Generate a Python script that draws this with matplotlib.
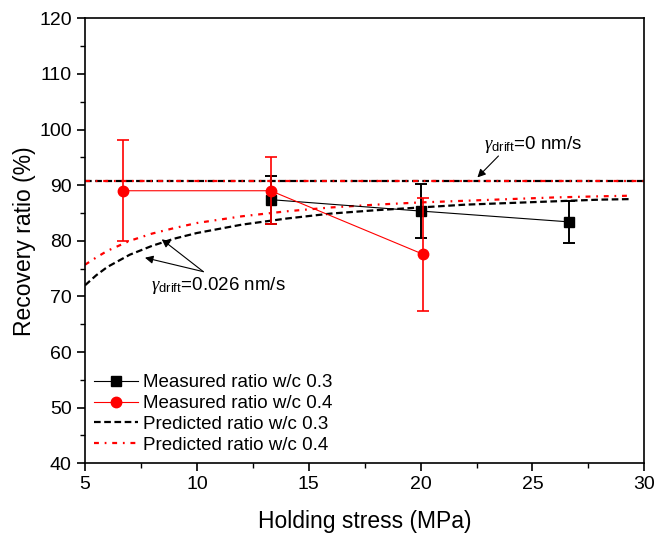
import matplotlib.pyplot as plt
from matplotlib.ticker import MultipleLocator

plt.rcParams['font.family'] = ['Liberation Sans', 'DejaVu Sans']
plt.rcParams['mathtext.fontset'] = 'custom'
plt.rcParams['mathtext.it'] = 'Liberation Serif:italic'
plt.rcParams['mathtext.rm'] = 'Liberation Sans'

# measured recovery ratios
stress_03 = [13.3, 20.0, 26.65]
ratio_03 = [87.4, 85.35, 83.4]
err_lo_03 = [4.3, 4.9, 3.75]
err_hi_03 = [4.25, 4.8, 3.75]

stress_04 = [6.7, 13.3, 20.1]
ratio_04 = [89.0, 89.0, 77.6]
err_lo_04 = [9.0, 6.0, 10.3]
err_hi_04 = [9.1, 6.1, 10.15]

# predicted curves (gamma_drift = 0.026 nm/s)
pred_x_03 = [5.0, 5.5, 6.0, 7.0, 8.0, 9.0, 10.0, 12.0, 14.0, 16.0, 18.0,
             20.0, 22.0, 24.0, 26.0, 28.0, 29.4]
pred_y_03 = [72.0, 73.8, 75.3, 77.5, 79.1, 80.4, 81.4, 82.9, 84.0, 84.9, 85.5,
             86.0, 86.5, 86.8, 87.1, 87.4, 87.5]
pred_x_04 = [5.0, 5.5, 6.0, 7.0, 8.0, 9.0, 10.0, 12.0, 14.0, 16.0, 18.0,
             20.0, 22.0, 24.0, 26.0, 28.0, 29.3]
pred_y_04 = [75.7, 77.0, 78.2, 80.0, 81.3, 82.3, 83.2, 84.4, 85.3, 86.0, 86.5,
             86.9, 87.2, 87.5, 87.8, 88.0, 88.1]

# gamma_drift = 0 level
flat_x = [5, 30]
flat_y = [90.7, 90.7]

red_dash = (2.2, 2.6, 0.8, 2.6)
black_dash = (3, 1.6)

fig = plt.figure(figsize=(6.55, 5.34), dpi=100)
ax = fig.add_axes([0.1298, 0.1324, 0.8539, 0.8333])

eb03 = ax.errorbar(stress_03, ratio_03, yerr=[err_lo_03, err_hi_03], color='black',
                   marker='s', markersize=6.5, linewidth=0.8, elinewidth=1.4,
                   capsize=4, capthick=1.4, zorder=3)
eb04 = ax.errorbar(stress_04, ratio_04, yerr=[err_lo_04, err_hi_04], color='red',
                   marker='o', markersize=7.5, linewidth=0.8, elinewidth=1.2,
                   capsize=4, capthick=1.2, zorder=4)

p03, = ax.plot(pred_x_03, pred_y_03, color='black', linewidth=1.6,
               dashes=black_dash, zorder=2)
p04, = ax.plot(pred_x_04, pred_y_04, color='red', linewidth=1.6,
               dashes=red_dash, zorder=2)
ax.plot(flat_x, flat_y, color='black', linewidth=1.6, dashes=black_dash, zorder=2)
ax.plot(flat_x, flat_y, color='red', linewidth=1.6, dashes=red_dash, zorder=2)

# annotations
ax.annotate('', xy=(22.54, 91.4), xytext=(23.48, 95.25),
            arrowprops=dict(arrowstyle='-|>', color='black', lw=0.8,
                            mutation_scale=12, shrinkA=0, shrinkB=0))
ax.text(22.85, 97.3, r'$\gamma_{\mathrm{drift}}$=0 nm/s', fontsize=13.5,
        ha='left', va='center')

for head in [(8.43, 80.27), (7.68, 76.96)]:
    ax.annotate('', xy=head, xytext=(10.29, 74.45),
                arrowprops=dict(arrowstyle='-|>', color='black', lw=0.8,
                                mutation_scale=12, shrinkA=0, shrinkB=0))
ax.text(7.95, 72.0, r'$\gamma_{\mathrm{drift}}$=0.026 nm/s', fontsize=13.5,
        ha='left', va='center')

ax.set_xlim(5, 30)
ax.set_ylim(40, 120)
ax.xaxis.set_major_locator(MultipleLocator(5))
ax.xaxis.set_minor_locator(MultipleLocator(2.5))
ax.yaxis.set_major_locator(MultipleLocator(10))
ax.yaxis.set_minor_locator(MultipleLocator(5))
ax.tick_params(which='major', direction='out', length=6, width=1.2,
               labelsize=14, top=False, right=False)
ax.tick_params(which='minor', direction='out', length=3.5, width=1.0,
               top=False, right=False)
for sp in ax.spines.values():
    sp.set_linewidth(1.2)

ax.set_xlabel('Holding stress (MPa)', fontsize=16.5, labelpad=12)
ax.set_ylabel('Recovery ratio (%)', fontsize=16.5, labelpad=2)

ax.legend([eb03.lines[0], eb04.lines[0], p03, p04],
          ['Measured ratio w/c 0.3', 'Measured ratio w/c 0.4',
           'Predicted ratio w/c 0.3', 'Predicted ratio w/c 0.4'],
          loc='lower left', frameon=False, fontsize=13.5, handlelength=2.3,
          handletextpad=0.3, labelspacing=0.2, borderaxespad=0.2,
          borderpad=0.3)

fig.savefig('out.png', dpi=100)
